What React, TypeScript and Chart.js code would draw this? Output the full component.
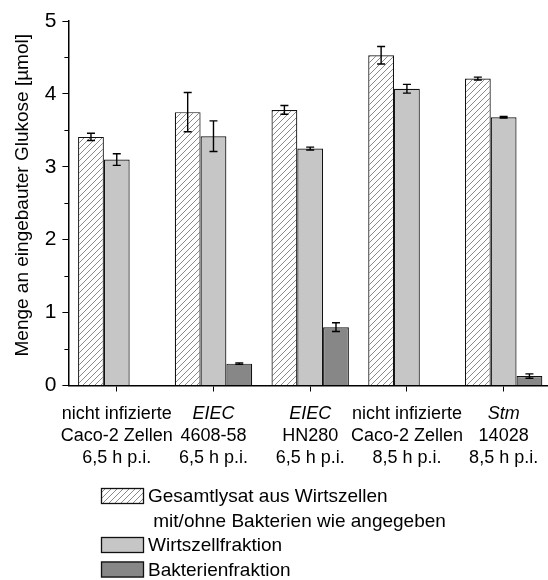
import React, { useEffect, useRef } from "react";
import { Chart, registerables } from "chart.js";

Chart.register(...registerables);

// ---- Data ----
const categoryLines: string[][] = [
  ["nicht infizierte", "Caco-2 Zellen", "6,5 h p.i."],
  ["EIEC", "4608-58", "6,5 h p.i."],
  ["EIEC", "HN280", "6,5 h p.i."],
  ["nicht infizierte", "Caco-2 Zellen", "8,5 h p.i."],
  ["Stm", "14028", "8,5 h p.i."],
];
const italicFirstLine = [false, true, true, false, true];

const gesamtValues = [3.41, 3.75, 3.78, 4.53, 4.21];
const gesamtErrors = [0.05, 0.27, 0.06, 0.12, 0.02];
const wirtValues = [3.1, 3.42, 3.25, 4.07, 3.68];
const wirtErrors = [0.08, 0.21, 0.02, 0.06, 0.01];
const bakterienValues: (number | null)[] = [null, 0.3, 0.8, null, 0.13];
const bakterienErrors = [0, 0.01, 0.06, 0, 0.03];

const yTickValues = [0, 1, 2, 3, 4, 5];
const yMinorTickValues = [0.5, 1.5, 2.5, 3.5, 4.5];
const yTitle = "Menge an eingebauter Glukose [µmol]";
const legendLines: string[][] = [
  ["Gesamtlysat aus Wirtszellen", " mit/ohne Bakterien wie angegeben"],
  ["Wirtszellfraktion"],
  ["Bakterienfraktion"],
];

const FONT = "'Liberation Sans', Arial, Helvetica, sans-serif";
const GRAY = "#c6c6c6";
const DARK = "#878787";
const EDGE = "#111111";

function makeHatch(): CanvasPattern | string {
  const s = 6;
  const c = document.createElement("canvas");
  c.width = s;
  c.height = s;
  const g = c.getContext("2d");
  if (!g) return "#fff";
  g.fillStyle = "#ffffff";
  g.fillRect(0, 0, s, s);
  g.strokeStyle = "#8a8a8a";
  g.lineWidth = 1;
  g.beginPath();
  g.moveTo(-1, s + 1);
  g.lineTo(s + 1, -1);
  g.moveTo(-1, 1);
  g.lineTo(1, -1);
  g.moveTo(s - 1, s + 1);
  g.lineTo(s + 1, s - 1);
  g.stroke();
  const p = g.createPattern(c, "repeat");
  return p || "#fff";
}

export default function App() {
  const ref = useRef<HTMLCanvasElement | null>(null);

  useEffect(() => {
    const canvas = ref.current;
    if (!canvas) return;
    const hatch = makeHatch();
    const errorSets = [gesamtErrors, wirtErrors, bakterienErrors];

    const decor = {
      id: "decor",
      afterDatasetsDraw(chart: any) {
        const ctx = chart.ctx as CanvasRenderingContext2D;
        const y = chart.scales.y;
        ctx.save();
        ctx.strokeStyle = "#000";
        ctx.lineWidth = 1.4;
        chart.data.datasets.forEach((ds: any, di: number) => {
          const meta = chart.getDatasetMeta(di);
          ds.data.forEach((v: number | null, i: number) => {
            if (v === null || v === undefined) return;
            const e = errorSets[di][i];
            if (!e) return;
            const x = meta.data[i].x;
            const yt = y.getPixelForValue(v + e);
            const yb = y.getPixelForValue(v - e);
            ctx.beginPath();
            ctx.moveTo(x, yt);
            ctx.lineTo(x, yb);
            ctx.moveTo(x - 4, yt);
            ctx.lineTo(x + 4, yt);
            ctx.moveTo(x - 4, yb);
            ctx.lineTo(x + 4, yb);
            ctx.stroke();
          });
        });
        ctx.restore();
      },
      afterDraw(chart: any) {
        const ctx = chart.ctx as CanvasRenderingContext2D;
        const x = chart.scales.x;
        const y = chart.scales.y;
        const area = chart.chartArea;
        ctx.save();
        // minor y ticks
        ctx.strokeStyle = "#000";
        ctx.lineWidth = 1;
        yMinorTickValues.forEach((v) => {
          const py = Math.round(y.getPixelForValue(v)) + 0.5;
          ctx.beginPath();
          ctx.moveTo(area.left - 4, py);
          ctx.lineTo(area.left, py);
          ctx.stroke();
        });
        // y title
        ctx.fillStyle = "#000";
        ctx.font = `19px ${FONT}`;
        ctx.textAlign = "center";
        ctx.textBaseline = "middle";
        ctx.save();
        ctx.translate(22.5, (area.top + area.bottom) / 2 - 8);
        ctx.rotate(-Math.PI / 2);
        ctx.fillText(yTitle, 0, 0);
        ctx.restore();
        // x category labels
        ctx.textAlign = "center";
        ctx.textBaseline = "alphabetic";
        categoryLines.forEach((lines, i) => {
          const px = x.getPixelForValue(i);
          lines.forEach((t, li) => {
            const italic = li === 0 && italicFirstLine[i];
            ctx.font = `${italic ? "italic " : ""}18px ${FONT}`;
            ctx.fillText(t, px, area.bottom + 33 + li * 22);
          });
        });
        // legend
        const fills: (CanvasPattern | string)[] = [hatch, GRAY, DARK];
        const lx = 101;
        const sw = 43;
        const sh = 16;
        let row = 0;
        const rowCenter = (r: number) => area.bottom + 110.5 + r * 24.5;
        ctx.font = `19px ${FONT}`;
        ctx.textAlign = "left";
        ctx.textBaseline = "middle";
        legendLines.forEach((lines, k) => {
          const cy = rowCenter(row);
          ctx.fillStyle = fills[k] as any;
          ctx.fillRect(lx, cy - sh / 2, sw, sh);
          ctx.strokeStyle = EDGE;
          ctx.lineWidth = 1.3;
          ctx.strokeRect(lx + 0.5, cy - sh / 2 + 0.5, sw - 1, sh - 1);
          ctx.fillStyle = "#000";
          lines.forEach((t) => {
            ctx.fillText(t, lx + sw + 4, rowCenter(row) + 1);
            row++;
          });
        });
        ctx.restore();
      },
    };

    const chart = new Chart(canvas, {
      type: "bar",
      data: {
        labels: categoryLines.map((l) => l.join(" ")),
        datasets: [
          {
            label: legendLines[0].join(" "),
            data: gesamtValues,
            backgroundColor: hatch as any,
            borderColor: EDGE,
            borderWidth: 1.2,
            categoryPercentage: 0.8,
            barPercentage: 1.0,
          },
          {
            label: legendLines[1][0],
            data: wirtValues,
            backgroundColor: GRAY,
            borderColor: EDGE,
            borderWidth: 1.2,
            categoryPercentage: 0.8,
            barPercentage: 1.0,
          },
          {
            label: legendLines[2][0],
            data: bakterienValues,
            backgroundColor: DARK,
            borderColor: EDGE,
            borderWidth: 1.2,
            categoryPercentage: 0.8,
            barPercentage: 1.0,
          },
        ],
      },
      options: {
        responsive: false,
        animation: false,
        devicePixelRatio: 1,
        layout: { padding: { top: 21, left: 0, right: 0, bottom: 0 } },
        plugins: {
          legend: { display: false },
          tooltip: { enabled: false },
          title: { display: false },
        },
        scales: {
          x: {
            type: "category",
            offset: true,
            grid: {
              offset: false,
              drawOnChartArea: false,
              drawTicks: true,
              tickLength: 6,
              color: "#000",
              lineWidth: 1,
            },
            border: { display: true, color: "#000", width: 1.5 },
            ticks: { display: false },
            afterFit: (s: any) => {
              s.height = 194.5;
            },
          },
          y: {
            min: 0,
            max: 5,
            afterBuildTicks: (s: any) => {
              s.ticks = yTickValues.map((v) => ({ value: v }));
            },
            grid: {
              drawOnChartArea: false,
              drawTicks: true,
              tickLength: 6,
              color: "#000",
              lineWidth: 1,
            },
            border: { display: true, color: "#000", width: 1.5 },
            ticks: {
              color: "#000",
              padding: 6,
              font: { family: FONT, size: 21 },
              callback: (v: any) => String(v),
            },
            afterFit: (s: any) => {
              s.width = 68.4;
            },
          },
        },
      },
      plugins: [decor],
    });

    return () => chart.destroy();
  }, []);

  return (
    <div
      style={{
        position: "absolute",
        left: 0,
        top: 0,
        width: 548,
        height: 580,
        overflow: "hidden",
        background: "#fff",
      }}
    >
      <canvas ref={ref} width={552} height={580} style={{ display: "block" }} />
    </div>
  );
}
